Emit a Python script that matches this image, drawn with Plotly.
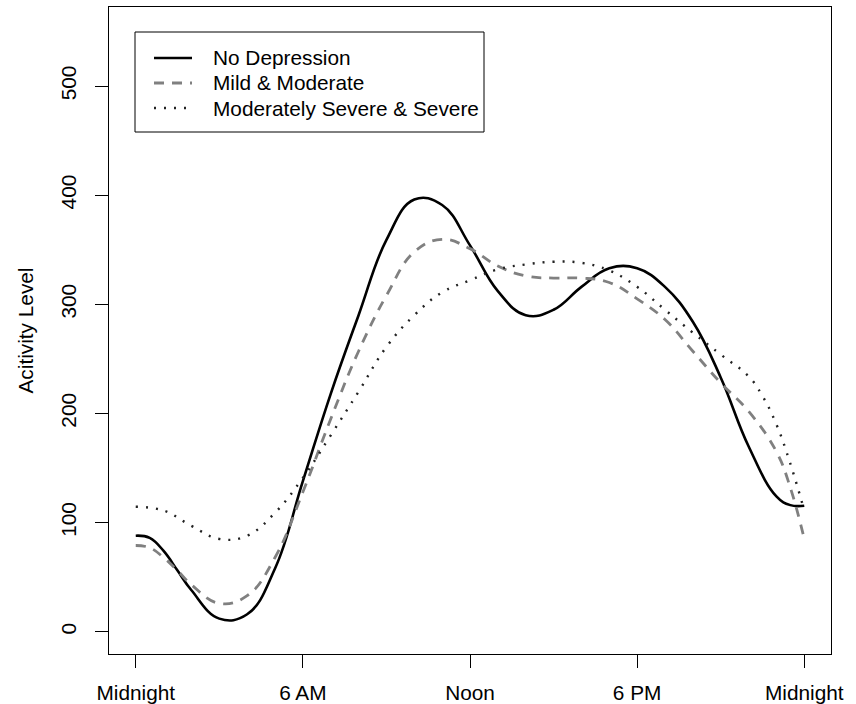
import plotly.graph_objects as go

# ---- data ----
hours_none = [0, 0.5, 1, 1.5, 2, 3, 4, 5, 6, 7, 8, 9, 10, 11, 12, 13, 14, 15, 16, 17, 18, 19, 20,
              21, 22, 23, 23.5, 24]
act_none = [88, 86, 74, 56, 38, 12, 16, 58, 138, 218, 290, 359, 396, 391, 354, 312, 290, 295, 316,
            333, 333, 316, 284, 233, 170, 124, 116, 115.5]

hours_mild = [0, 0.5, 1, 1.5, 2, 3, 4, 5, 6, 7, 8, 9, 10, 11, 12, 13, 14, 15, 16, 17, 18, 19, 20,
              21, 22, 23, 23.5, 24]
act_mild = [79, 77, 68, 56, 43, 26, 33, 68, 128, 195, 257, 308, 348, 359.5, 351, 335, 326, 324,
            324, 320, 305, 286, 257, 228, 202, 165, 132, 85]

hours_severe = [0, 1, 2, 3, 4, 5, 6, 7, 8, 9, 10, 11, 12, 13, 14, 15, 16, 17, 18, 19, 20, 21, 22,
                22.5, 23, 23.5, 24]
act_severe = [114.5, 111, 97, 85, 88, 109, 141, 180, 220, 261, 290, 311, 322, 332, 336.5, 339,
              338, 331, 316, 295, 274, 254, 234, 216, 190, 154, 111]

x_tickvals = [0, 6, 12, 18, 24]
x_ticktext = ["Midnight", "6 AM", "Noon", "6 PM", "Midnight"]
y_tickvals = [0, 100, 200, 300, 400, 500]
legend_labels = ["No Depression", "Mild & Moderate", "Moderately Severe & Severe"]
y_title = "Acitivity Level"

# ---- layout geometry ----
W, H = 856, 704
L, R, T, B = 109, 25, 7, 50
PW, PH = W - L - R, H - T - B
FONT = "Liberation Sans, Arial, Helvetica, sans-serif"
FS = 20.8


def px2x(px):
    return (px - L) / PW


def px2y(py):
    return (H - B - py) / PH


styles = [
    dict(color="black", width=2.6, dash="solid"),
    dict(color="#808080", width=2.8, dash="10px,8px"),
    dict(color="#222222", width=2.4, dash="2px,8px"),
]

fig = go.Figure()
for xs, ys, st, name in zip([hours_none, hours_mild, hours_severe],
                            [act_none, act_mild, act_severe], styles, legend_labels):
    fig.add_trace(go.Scatter(x=xs, y=ys, mode="lines", name=name,
                             line=dict(color=st["color"], width=st["width"], dash=st["dash"],
                                       shape="spline", smoothing=1.2),
                             showlegend=False, hoverinfo="skip"))

# manual legend (R-style box legend)
shapes = [dict(type="rect", xref="paper", yref="paper",
               x0=px2x(135), x1=px2x(484), y0=px2y(132), y1=px2y(32),
               line=dict(color="black", width=1), fillcolor="white", layer="above")]
annotations = []
for i, (lab, st) in enumerate(zip(legend_labels, styles)):
    yc = 58 + 25 * i
    shapes.append(dict(type="line", xref="paper", yref="paper",
                       x0=px2x(154), x1=px2x(192), y0=px2y(yc), y1=px2y(yc),
                       line=dict(color=st["color"], width=st["width"], dash=st["dash"]),
                       layer="above"))
    annotations.append(dict(xref="paper", yref="paper", x=px2x(211), y=px2y(yc),
                            text=lab, showarrow=False, xanchor="left", yanchor="middle",
                            font=dict(family=FONT, size=FS, color="black")))

annotations.append(dict(xref="paper", yref="paper", x=px2x(25), y=0.5, text=y_title,
                        textangle=-90, showarrow=False, xanchor="center", yanchor="middle",
                        font=dict(family=FONT, size=FS, color="black")))

fig.update_layout(
    width=W, height=H,
    margin=dict(l=L, r=R, t=T, b=B, pad=0, autoexpand=False),
    paper_bgcolor="white", plot_bgcolor="white",
    font=dict(family=FONT, size=FS, color="black"),
    shapes=shapes, annotations=annotations,
    xaxis=dict(range=[-0.96, 24.96], tickvals=x_tickvals, ticktext=x_ticktext,
               showgrid=False, zeroline=False, showline=True, mirror=True,
               linecolor="black", linewidth=1, ticks="outside", ticklen=13,
               tickwidth=1, tickcolor="black", ticklabelstandoff=7, automargin=False,
               tickfont=dict(family=FONT, size=FS, color="black"), fixedrange=True),
    yaxis=dict(range=[-20.4, 572.4], tickvals=y_tickvals,
               showgrid=False, zeroline=False, showline=True, mirror=True,
               linecolor="black", linewidth=1, ticks="outside", ticklen=13,
               tickwidth=1, tickcolor="black", tickangle=-90, ticklabelstandoff=11,
               automargin=False,
               tickfont=dict(family=FONT, size=FS, color="black"), fixedrange=True),
    showlegend=False,
)

fig.write_html("out.html", config={"displayModeBar": False})
